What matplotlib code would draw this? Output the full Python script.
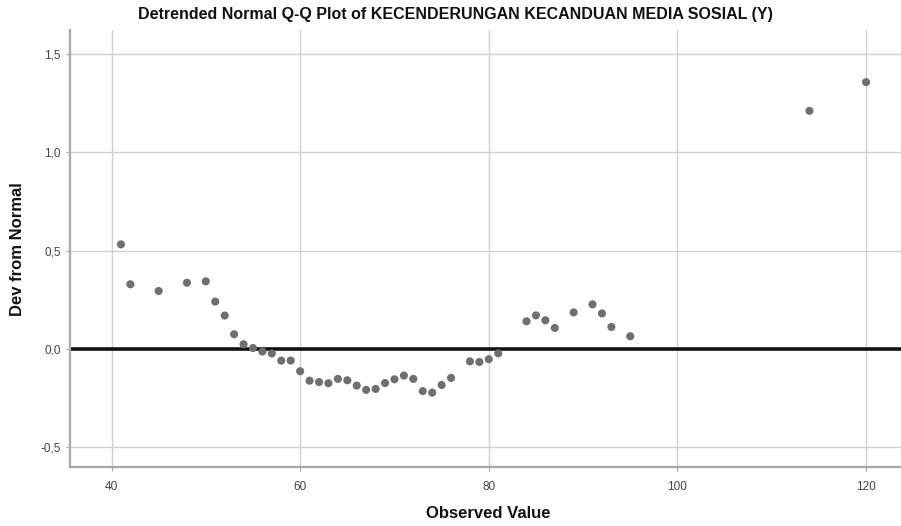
import matplotlib
matplotlib.use("Agg")
import matplotlib.pyplot as plt
from matplotlib.ticker import FuncFormatter

observed = [41, 42, 45, 48, 50, 51, 52, 53, 54, 55, 56, 57, 58, 59, 60,
            61, 62, 63, 64, 65, 66, 67, 68, 69, 70, 71, 72, 73, 74, 75, 76,
            78, 79, 80, 81, 84, 85, 86, 87, 89, 91, 92, 93, 95, 114, 120]
dev_normal = [0.532, 0.329, 0.295, 0.337, 0.344, 0.241, 0.170, 0.075, 0.024,
              0.005, -0.013, -0.023, -0.059, -0.059, -0.113,
              -0.161, -0.168, -0.174, -0.152, -0.159, -0.186, -0.208, -0.203,
              -0.173, -0.154, -0.135, -0.152, -0.214, -0.222, -0.183, -0.147,
              -0.063, -0.066, -0.052, -0.022, 0.141, 0.171, 0.146, 0.107,
              0.186, 0.227, 0.181, 0.112, 0.065, 1.211, 1.357]

x_ticks = [40, 60, 80, 100, 120]
y_ticks = [-0.5, 0.0, 0.5, 1.0, 1.5]

plt.rcParams["font.family"] = ["Liberation Sans", "DejaVu Sans"]

fig = plt.figure(figsize=(9.01, 5.26), dpi=100)
ax = fig.add_axes([70 / 901, 1 - 467 / 526, 1 - 70 / 901 + 0.001, (467 - 30) / 526])

ax.set_xlim(35.6, 123.8)
ax.set_ylim(-0.60, 1.622)
ax.set_xticks(x_ticks)
ax.set_yticks(y_ticks)
ax.yaxis.set_major_formatter(FuncFormatter(lambda v, p: f"{v:.1f}".replace(".", ",")))

ax.grid(True, color="#d0d0d0", linewidth=1.0)
ax.set_axisbelow(True)

ax.axhline(0, color="#111111", linewidth=2.6, zorder=2)
ax.scatter(observed, dev_normal, s=34, color="#6f6f6f", edgecolors="none", zorder=3)

for side in ["top", "right"]:
    ax.spines[side].set_visible(False)
for side in ["left", "bottom"]:
    ax.spines[side].set_color("#a8a8a8")
    ax.spines[side].set_linewidth(1.6)

ax.tick_params(axis="both", length=3, color="#a8a8a8", labelsize=8.5, labelcolor="#444444")
ax.tick_params(axis="x", pad=7)

fig.text(455 / 901, 1 - 15 / 526, "Detrended Normal Q-Q Plot of KECENDERUNGAN KECANDUAN MEDIA SOSIAL (Y)",
         ha="center", va="center", fontsize=11.5, fontweight="bold", color="#111111")
fig.text(488 / 901, 1 - 513 / 526, "Observed Value", ha="center", va="center",
         fontsize=12, fontweight="bold", color="#111111")
fig.text(18 / 901, 1 - 249 / 526, "Dev from Normal", ha="center", va="center", rotation=90,
         fontsize=12, fontweight="bold", color="#111111")

fig.savefig("out.png", dpi=100)
